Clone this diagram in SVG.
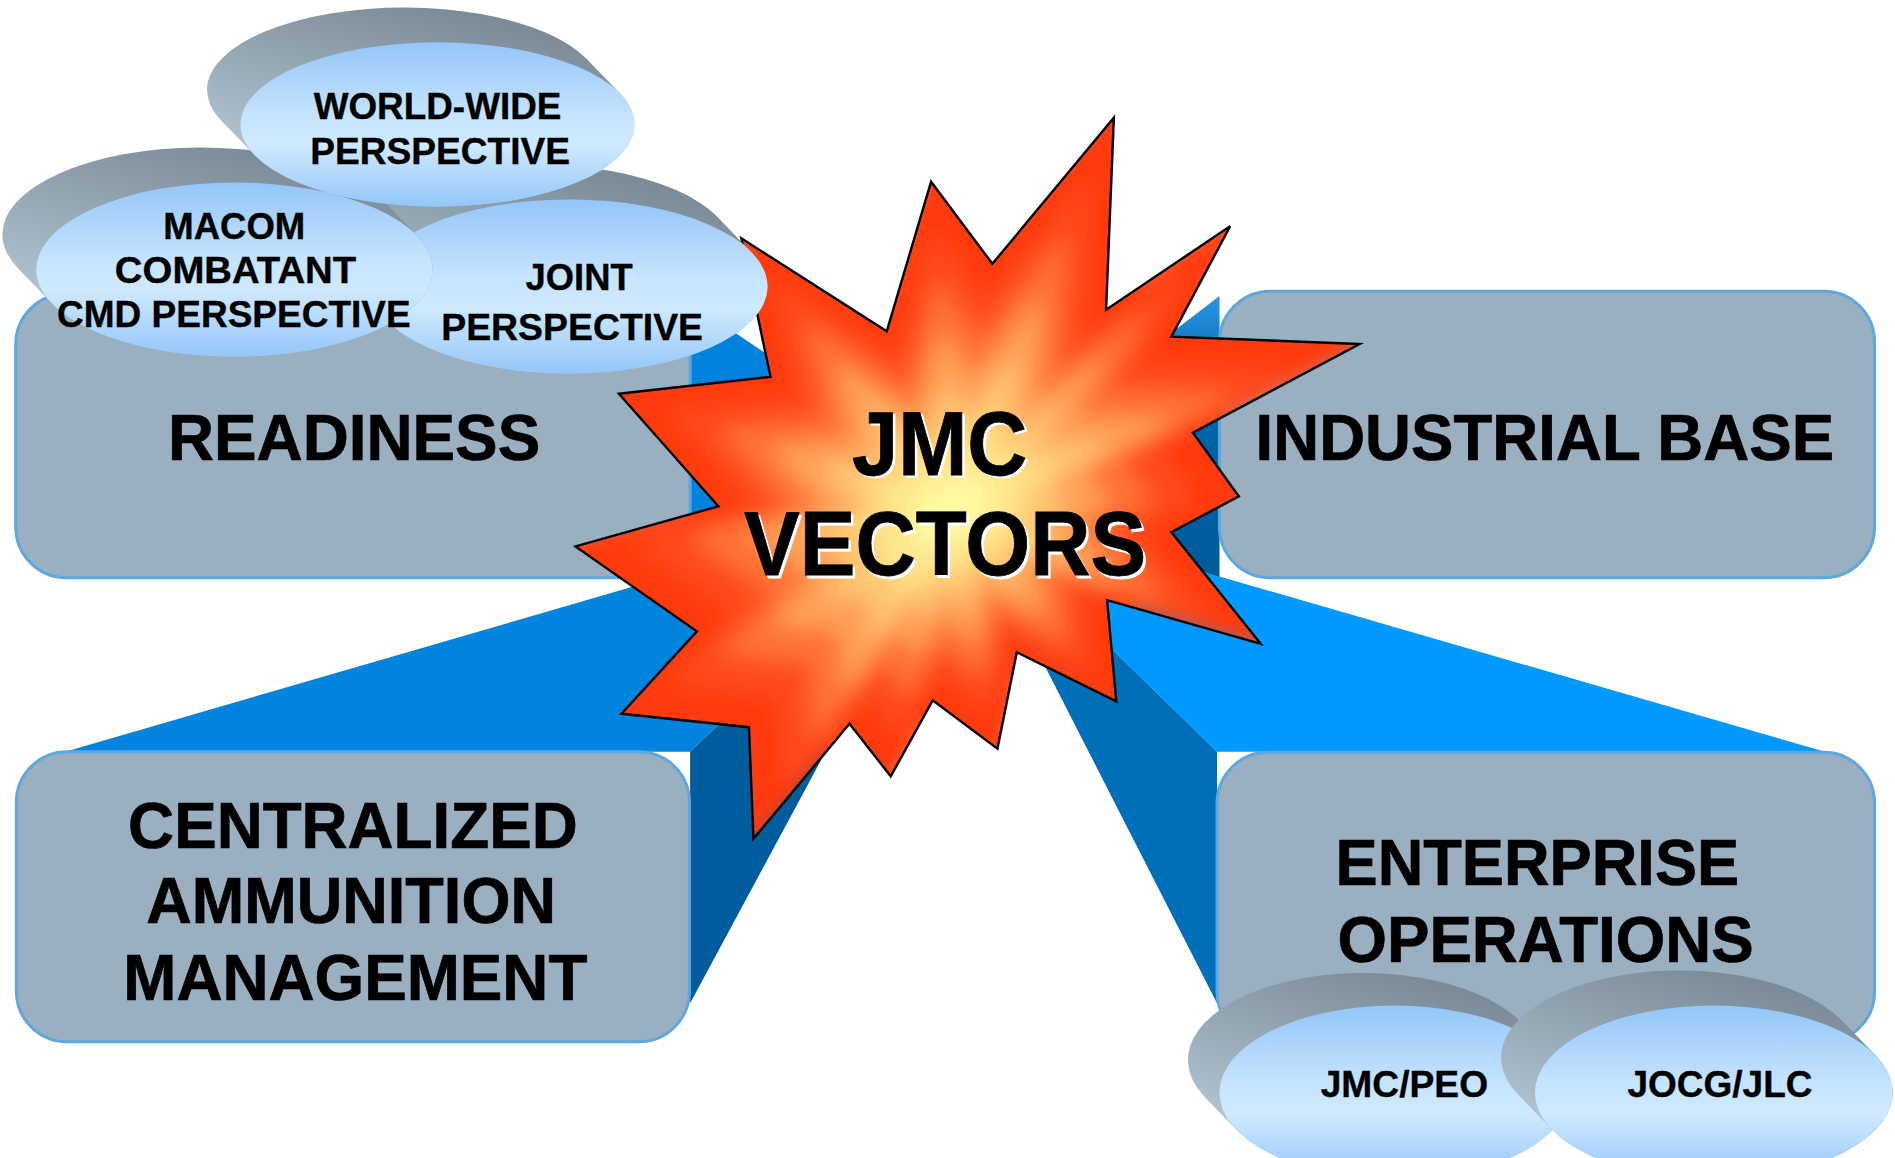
<svg xmlns="http://www.w3.org/2000/svg" width="1895" height="1158" viewBox="0 0 1895 1158">
<style>
.box{fill:#9AAFBF;stroke:#5EA8E0;stroke-width:2.5}
.lbl{font-family:"Liberation Sans",Arial,sans-serif;font-weight:bold;fill:#000;text-anchor:middle}
.big{font-size:54px;stroke:#000;stroke-width:0.6}
.sm{font-size:31px;stroke:#000;stroke-width:0.3}
.st{font-size:75px;stroke:#000;stroke-width:0.7}
.sh{fill:#fff;stroke:#fff}
.back{fill:url(#gGray)}
.front{fill:url(#gCloud)}
</style>
<defs>
<linearGradient id="gCloud" x1="0" y1="0" x2="0" y2="1">
<stop offset="0" stop-color="#94C6F8"/>
<stop offset="0.45" stop-color="#C6E4FE"/>
<stop offset="0.62" stop-color="#CFEAFF"/>
<stop offset="1" stop-color="#94C6F8"/>
</linearGradient>
<linearGradient id="gGray" x1="0.05" y1="0.9" x2="0.55" y2="0">
<stop offset="0" stop-color="#BDD0DE"/>
<stop offset="1" stop-color="#7B8B97"/>
</linearGradient>
<linearGradient id="gInd" x1="0" y1="0" x2="0" y2="1">
<stop offset="0" stop-color="#2A95E4"/>
<stop offset="0.3" stop-color="#0068AE"/>
<stop offset="1" stop-color="#005A9A"/>
</linearGradient>
<path id="starShape" d="M 921.6 97.5 L 915.2 256.3 L 1017.8 187.2 L 969.2 278.5 L 1124.9 284.6 L 987.0 358.0 L 1025.0 410.7 L 969.2 440.3 L 1043.1 532.7 L 916.0 496.5 L 923.6 580.3 L 841.3 539.6 L 825.3 619.4 L 771.7 579.5 L 737.0 642.3 L 702.9 598.8 L 623.4 694.1 L 619.7 601.7 L 514.2 590.6 L 576.6 522.4 L 476.2 452.1 L 594.4 418.9 L 512.1 325.8 L 637.5 311.8 L 613.4 197.2 L 733.7 274.1 L 770.4 150.3 L 821.1 218.3 Z"/>
<clipPath id="starClip"><use href="#starShape"/></clipPath>
<filter id="blur" filterUnits="userSpaceOnUse" x="380" y="40" width="820" height="720"><feGaussianBlur stdDeviation="9"/></filter>
</defs>
<rect x="0" y="0" width="1895" height="1158" fill="#fff"/>
<g transform="scale(1.2086)">
<g id="connectors">
<polygon points="571,250 571,478 800,405" fill="#0082DD"/>
<polygon points="1009,245 1009,478 800,405" fill="url(#gInd)"/>
<polygon points="54,622 571,622 800,405" fill="#0084DE"/>
<polygon points="571,622 571,830 800,405" fill="#005C9C"/>
<polygon points="1007,622 1510,622 795,415" fill="#0099FF"/>
<polygon points="1007,622 1007,830 795,415" fill="#006FB9"/>
</g>
<g id="readiness">
<rect class="box" x="13" y="243" width="558" height="235" rx="42" ry="42"/>
<text class="lbl big" x="293" y="380.5" textLength="308" lengthAdjust="spacingAndGlyphs">READINESS</text>
</g>
<g id="industrial-base">
<rect class="box" x="1009" y="241" width="542" height="237" rx="42" ry="42"/>
<text class="lbl big" x="1278.2" y="380.6" textLength="478.7" lengthAdjust="spacingAndGlyphs">INDUSTRIAL BASE</text>
</g>
<g id="centralized">
<rect class="box" x="13.5" y="622" width="557" height="240" rx="42" ry="42"/>
<text class="lbl big" x="292" y="702" textLength="372" lengthAdjust="spacingAndGlyphs">CENTRALIZED</text>
<text class="lbl big" x="290.5" y="764" textLength="339" lengthAdjust="spacingAndGlyphs">AMMUNITION</text>
<text class="lbl big" x="294" y="827" textLength="384" lengthAdjust="spacingAndGlyphs">MANAGEMENT</text>
</g>
<g id="enterprise">
<rect class="box" x="1007" y="622.5" width="544" height="240" rx="42" ry="42"/>
<text class="lbl big" x="1272" y="732.3" textLength="334" lengthAdjust="spacingAndGlyphs">ENTERPRISE</text>
<text class="lbl big" x="1278.8" y="795.7" textLength="344.5" lengthAdjust="spacingAndGlyphs">OPERATIONS</text>
</g>
<g id="jmc-vectors">
<g clip-path="url(#starClip)">
<g filter="url(#blur)">
<use href="#starShape" fill="#FF3A10" transform="translate(788 425) scale(1.15) translate(-788 -425)"/>
<use href="#starShape" fill="#FF4C1E" transform="translate(788 425) scale(0.85) translate(-788 -425)"/>
<use href="#starShape" fill="#FF7236" transform="translate(788 425) scale(0.7) translate(-788 -425)"/>
<use href="#starShape" fill="#FFA058" transform="translate(788 425) scale(0.55) translate(-788 -425)"/>
<use href="#starShape" fill="#FFC672" transform="translate(788 425) scale(0.4) translate(-788 -425)"/>
<use href="#starShape" fill="#FFE68C" transform="translate(788 425) scale(0.27) translate(-788 -425)"/>
<use href="#starShape" fill="#FFFAA4" transform="translate(788 425) scale(0.13) translate(-788 -425)"/>
</g>
</g>
<use href="#starShape" fill="none" stroke="#000" stroke-width="2" stroke-linejoin="miter"/>
<text class="lbl st sh" x="779.5" y="395" textLength="145" lengthAdjust="spacingAndGlyphs">JMC</text>
<text class="lbl st" x="777.5" y="393" textLength="145" lengthAdjust="spacingAndGlyphs">JMC</text>
<text class="lbl st sh" x="784" y="478" textLength="332.7" lengthAdjust="spacingAndGlyphs">VECTORS</text>
<text class="lbl st" x="782" y="476" textLength="332.7" lengthAdjust="spacingAndGlyphs">VECTORS</text>
</g>
<g id="joint-perspective">
<path class="back" d="M 622.0 208.9 L 594.0 179.9 A 164 72 0 0 0 292.0 236.1 L 320.0 265.1 A 164 72 0 0 0 622.0 208.9 Z"/>
<ellipse class="front" cx="471" cy="237" rx="164" ry="72"/>
<text class="lbl sm" x="479.2" y="240" textLength="88.7" lengthAdjust="spacingAndGlyphs">JOINT</text>
<text class="lbl sm" x="473.4" y="281.2" textLength="216.6" lengthAdjust="spacingAndGlyphs">PERSPECTIVE</text>
</g>
<g id="macom-perspective">
<path class="back" d="M 345.0 194.9 L 317.0 165.9 A 164 72 0 0 0 15.0 222.1 L 43.0 251.1 A 164 72 0 0 0 345.0 194.9 Z"/>
<ellipse class="front" cx="194" cy="223" rx="164" ry="72"/>
<text class="lbl sm" x="193.8" y="198" textLength="117.5" lengthAdjust="spacingAndGlyphs">MACOM</text>
<text class="lbl sm" x="194.9" y="234.3" textLength="199.7" lengthAdjust="spacingAndGlyphs">COMBATANT</text>
<text class="lbl sm" x="193.5" y="270.7" textLength="292.6" lengthAdjust="spacingAndGlyphs">CMD PERSPECTIVE</text>
</g>
<g id="world-wide-perspective">
<path class="back" d="M 513.2 77.6 L 485.2 48.6 A 163 68 0 0 0 182.8 99.4 L 210.8 128.4 A 163 68 0 0 0 513.2 77.6 Z"/>
<ellipse class="front" cx="362" cy="103" rx="163" ry="68"/>
<text class="lbl sm" x="362" y="98.8" textLength="205" lengthAdjust="spacingAndGlyphs">WORLD-WIDE</text>
<text class="lbl sm" x="364.2" y="135.5" textLength="215" lengthAdjust="spacingAndGlyphs">PERSPECTIVE</text>
</g>
<g id="jmc-peo">
<path class="back" d="M 1284.7 872.9 L 1256.7 843.9 A 145 72 0 0 0 995.3 906.1 L 1023.3 935.1 A 145 72 0 0 0 1284.7 872.9 Z"/>
<ellipse class="front" cx="1154" cy="904" rx="145" ry="72"/>
<text class="lbl sm" x="1162" y="907.4" textLength="138.5" lengthAdjust="spacingAndGlyphs">JMC/PEO</text>
</g>
<g id="jocg-jlc">
<path class="back" d="M 1552.0 873.4 L 1524.0 844.4 A 148 72 0 0 0 1256.0 905.6 L 1284.0 934.6 A 148 72 0 0 0 1552.0 873.4 Z"/>
<ellipse class="front" cx="1418" cy="904" rx="148" ry="72"/>
<text class="lbl sm" x="1423.1" y="907.7" textLength="153.2" lengthAdjust="spacingAndGlyphs">JOCG/JLC</text>
</g>
</g>
</svg>
